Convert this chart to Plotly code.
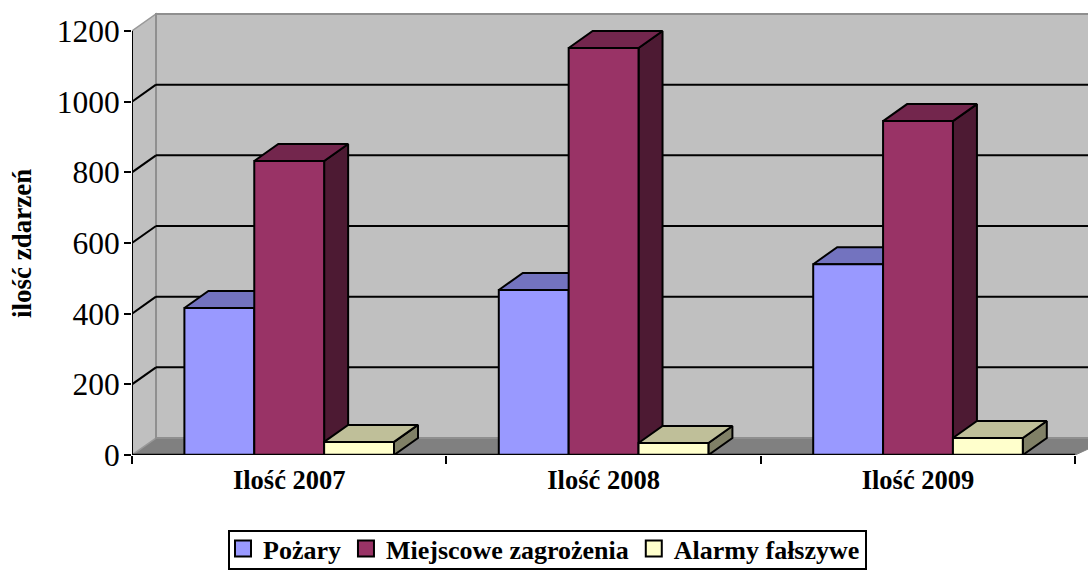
import plotly.graph_objects as go

categories = ["Ilość 2007", "Ilość 2008", "Ilość 2009"]
pozary = [416, 467, 540]
miejscowe = [832, 1152, 945]
alarmy = [37, 34, 48]
series_names = ["Pożary", "Miejscowe zagrożenia", "Alarmy fałszywe"]
y_ticks = [0, 200, 400, 600, 800, 1000, 1200]

front_colors = ["#9999FF", "#993366", "#FFFFCC"]
top_colors = ["#7373BF", "#73264D", "#BFBF99"]
side_colors = ["#4D4D80", "#4D1A33", "#808066"]

W, H = 1088, 570
ML, MB = 132, 115
PX_PER_CAT = 314.4
PX_PER_UNIT = 424 / 1200
plot_w = W - ML
plot_h = H - MB
x_range = [-0.5, -0.5 + plot_w / PX_PER_CAT]
y_range = [0, plot_h / PX_PER_UNIT]
DX = 24 / PX_PER_CAT
DY = 17 / PX_PER_UNIT
BARGAP = 1 / 3
BW = (1 - BARGAP) / 3
SERIF = "Liberation Serif"
BLACK = "#000000"

values = [pozary, miejscowe, alarmy]
x0, x1 = x_range
x_end = len(categories) - 0.5
wall_top = y_ticks[-1] + DY


def poly(pts):
    return "M" + " L".join(f"{a},{b}" for a, b in pts) + " Z"


def px_x(p):
    return (p - ML) / plot_w


def px_y(p):
    return (plot_h - p) / plot_h


shapes = [
    dict(type="path", path=poly([(x0, 0), (x0 + DX, DY), (x1 + DX, DY), (x_end, 0)]),
         fillcolor="#808080", line=dict(color="#808080", width=1), layer="below"),
    dict(type="path", path=poly([(x0, 0), (x0 + DX, DY), (x0 + DX, wall_top), (x0, y_ticks[-1])]),
         fillcolor="#C0C0C0", line=dict(color="#999999", width=1.5), layer="below"),
    dict(type="path", path=poly([(x0 + DX, DY), (x1 + DX, DY), (x1 + DX, wall_top), (x0 + DX, wall_top)]),
         fillcolor="#C0C0C0", line=dict(color="#8F8F8F", width=2), layer="below"),
]
for t in y_ticks[1:-1]:
    shapes.append(dict(type="line", x0=x0, y0=t, x1=x0 + DX, y1=t + DY, layer="below",
                       line=dict(color=BLACK, width=2)))
    shapes.append(dict(type="line", x0=x0 + DX, y0=t + DY, x1=x1 + DX, y1=t + DY, layer="below",
                       line=dict(color=BLACK, width=2)))
# axis lines stop at the last tick
shapes.append(dict(type="line", x0=x0, y0=0, x1=x0, y1=y_ticks[-1], layer="above",
                   line=dict(color=BLACK, width=2)))
shapes.append(dict(type="line", x0=x0, y0=0, x1=x_end, y1=0, layer="above",
                   line=dict(color=BLACK, width=2.5)))
# legend frame
shapes.append(dict(type="rect", xref="paper", yref="paper", x0=px_x(229), x1=px_x(866),
                   y0=px_y(569), y1=px_y(531), line=dict(color=BLACK, width=2), layer="above"))

fig = go.Figure()

# depth faces, on the main axes, under the bar fronts
for j, vals in enumerate(values):
    side_x, side_y, top_x, top_y = [], [], [], []
    for i, v in enumerate(vals):
        left = i - 1.5 * BW + j * BW
        right = left + BW
        side_x += [right, right + DX, right + DX, right, right, None]
        side_y += [0, DY, v + DY, v, 0, None]
        top_x += [left, left + DX, right + DX, right, left, None]
        top_y += [v, v + DY, v + DY, v, v, None]
    for xs, ys, col in ((side_x, side_y, side_colors[j]), (top_x, top_y, top_colors[j])):
        fig.add_trace(go.Scatter(x=xs, y=ys, mode="lines", fill="toself", fillcolor=col,
                                 line=dict(color=BLACK, width=2), showlegend=False,
                                 hoverinfo="skip"))

# bar fronts, on overlaid axes sharing the same scales
for j, vals in enumerate(values):
    fig.add_trace(go.Bar(x=[0, 1, 2], y=vals, xaxis="x2", yaxis="y2", name=series_names[j],
                         marker=dict(color=front_colors[j], line=dict(color=BLACK, width=2)),
                         showlegend=False))

# legend entries
for j, name in enumerate(series_names):
    fig.add_trace(go.Scatter(x=[None], y=[None], mode="markers", name=name,
                             marker=dict(symbol="square", size=16, color=front_colors[j],
                                         line=dict(color=BLACK, width=2))))

fig.update_layout(
    width=W, height=H,
    margin=dict(l=ML, r=0, t=0, b=MB, autoexpand=False),
    paper_bgcolor="white", plot_bgcolor="white",
    barmode="group", bargap=BARGAP, bargroupgap=0,
    font=dict(family=SERIF, color=BLACK),
    shapes=shapes,
    showlegend=True,
    legend=dict(orientation="h", x=px_x(223), xanchor="left",
                y=px_y(525), yanchor="top",
                borderwidth=0, bgcolor="rgba(0,0,0,0)",
                font=dict(family=SERIF, size=26, color=BLACK, weight="bold"),
                traceorder="normal", itemwidth=30),
    xaxis=dict(range=x_range, tickmode="array", tickvals=[0, 1, 2], ticktext=categories,
               ticks="", showgrid=False, zeroline=False, showline=False,
               ticklabelstandoff=6,
               minor=dict(tick0=-0.5, dtick=1, ticks="outside", ticklen=8, tickwidth=2, tickcolor=BLACK,
                          showgrid=False),
               tickfont=dict(family=SERIF, size=26.5, color=BLACK, weight="bold")),
    yaxis=dict(range=y_range, tickmode="array", tickvals=y_ticks, ticks="outside", ticklen=7, tickwidth=2,
               tickcolor=BLACK, showgrid=False, zeroline=False, showline=False,
               ticklabelstandoff=-2,
               tickfont=dict(family=SERIF, size=31.5, color=BLACK)),
    xaxis2=dict(range=x_range, overlaying="x", visible=False),
    yaxis2=dict(range=y_range, overlaying="y", visible=False),
    annotations=[dict(text="ilość zdarzeń", textangle=-90, xref="paper", yref="paper",
                      x=px_x(22), y=px_y(244), xanchor="center", yanchor="middle",
                      showarrow=False, font=dict(family=SERIF, size=27, color=BLACK, weight="bold"))],
)

fig.write_html("out.html", post_script="document.body.style.margin='0';",
               config=dict(displayModeBar=False))
